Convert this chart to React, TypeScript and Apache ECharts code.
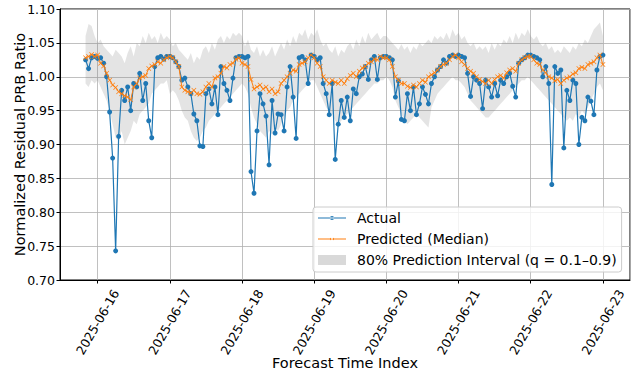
import React, { useEffect, useRef } from "react";
import * as echarts from "echarts";

// Hourly forecast index: first point 2025-06-15 20:00 (local), 173 points, last 2025-06-23 00:00
const START = [2025, 5, 15, 20];
const STEP_MS = 3600 * 1000;

// Actual normalized residual PRB ratio (one line per day)
const actual = [
  1.025, 1.012, 1.028, 1.030, 1.027, 1.028, 1.020, 1.000, 0.948, 0.880, 0.743, 0.912, 0.980, 0.965, 0.985, 0.950, 0.990, 0.985, 1.005, 0.965, 0.990, 0.935, 0.910, 1.015, 1.028, 1.030, 1.026, 1.030,
  1.030, 1.028, 1.022, 1.015, 0.995, 0.998, 0.985, 0.975, 0.945, 0.935, 0.898, 0.897, 0.975, 0.982, 0.960, 0.985, 0.944, 1.015, 0.990, 0.980, 0.965, 0.998, 1.028, 1.030,
  1.030, 1.028, 1.030, 0.860, 0.828, 0.920, 0.975, 0.960, 0.942, 0.870, 0.965, 0.917, 0.945, 0.944, 0.920, 0.985, 1.015, 0.970, 0.909, 1.028, 1.030, 1.025, 0.990, 1.032,
  1.030, 1.025, 1.028, 0.990, 0.975, 0.944, 0.990, 0.878, 0.930, 0.965, 0.940, 0.970, 0.935, 0.982, 0.975, 1.000, 1.004, 1.015, 0.996, 1.025, 1.030, 0.996, 1.028, 1.030,
  1.030, 1.028, 1.025, 0.970, 0.994, 0.937, 0.935, 0.975, 0.950, 0.985, 0.944, 0.960, 0.985, 0.974, 0.960, 0.990, 1.000, 1.010, 1.015, 1.025, 1.020, 1.030, 1.032, 1.030,
  1.032, 1.030, 1.028, 1.005, 0.971, 1.000, 0.995, 0.990, 0.953, 0.995, 0.985, 0.970, 0.990, 0.972, 0.995, 0.990, 1.000, 1.005, 0.986, 0.970, 1.020, 1.025, 1.028, 1.032,
  1.032, 1.030, 1.028, 1.025, 1.000, 1.015, 0.990, 0.841, 1.015, 1.005, 1.010, 0.895, 0.980, 0.965, 0.995, 0.990, 0.900, 0.940, 0.935, 0.970, 0.964, 0.944, 1.010, 1.030, 1.032,
];

// Predicted median
const predicted = [
  1.028, 1.030, 1.033, 1.030, 1.032, 1.020, 1.016, 1.005, 0.995, 0.988, 0.984, 0.978, 0.975, 0.972, 0.970, 0.966, 0.985, 0.990, 0.998, 1.000, 1.002, 1.012, 1.016, 1.018, 1.022, 1.020, 1.025, 1.028,
  1.030, 1.028, 1.022, 1.015, 0.985, 0.980, 0.978, 0.976, 0.980, 0.975, 0.974, 0.978, 0.985, 0.990, 0.985, 0.998, 1.000, 1.005, 1.015, 1.013, 1.018, 1.020, 1.026, 1.028,
  1.020, 1.018, 1.015, 0.996, 0.982, 0.985, 0.988, 0.982, 0.985, 0.978, 0.982, 0.975, 0.978, 0.990, 0.995, 1.000, 1.005, 1.010, 1.008, 1.018, 1.020, 1.022, 1.028, 1.032,
  1.028, 1.020, 1.015, 1.000, 0.995, 0.990, 0.995, 0.992, 0.990, 0.995, 0.990, 0.997, 1.002, 1.005, 1.000, 1.008, 1.013, 1.015, 1.020, 1.022, 1.026, 1.025, 1.030, 1.028,
  1.028, 1.025, 1.015, 1.000, 0.995, 0.990, 0.990, 0.986, 0.984, 0.988, 0.985, 0.990, 0.995, 0.992, 1.000, 1.003, 1.006, 1.010, 1.015, 1.018, 1.020, 1.025, 1.030, 1.032,
  1.028, 1.022, 1.018, 1.012, 1.008, 1.005, 1.000, 0.996, 0.993, 0.990, 0.995, 0.990, 0.996, 1.000, 1.002, 0.998, 1.006, 1.010, 1.012, 1.008, 1.020, 1.025, 1.028, 1.030,
  1.030, 1.025, 1.020, 1.018, 1.010, 1.006, 1.000, 0.998, 0.994, 0.996, 0.990, 0.995, 0.998, 1.000, 1.004, 1.006, 1.012, 1.014, 1.012, 1.018, 1.020, 1.022, 1.028, 1.032, 1.018,
];

// 10% quantile
const lower = [
  0.990, 0.985, 0.995, 0.990, 0.995, 0.985, 0.975, 0.965, 0.950, 0.930, 0.910, 0.905, 0.920, 0.900, 0.910, 0.920, 0.935, 0.930, 0.945, 0.950, 0.955, 0.960, 0.975, 0.980, 0.985, 0.990, 0.990, 0.995,
  0.975, 0.980, 0.975, 0.965, 0.950, 0.940, 0.935, 0.920, 0.910, 0.905, 0.910, 0.920, 0.925, 0.935, 0.940, 0.945, 0.950, 0.955, 0.960, 0.965, 0.970, 0.975, 0.980, 0.985,
  0.990, 0.985, 0.975, 0.955, 0.940, 0.930, 0.920, 0.915, 0.910, 0.920, 0.915, 0.925, 0.920, 0.930, 0.940, 0.950, 0.955, 0.965, 0.970, 0.975, 0.980, 0.985, 0.990, 0.995,
  0.995, 0.985, 0.975, 0.965, 0.955, 0.950, 0.945, 0.935, 0.930, 0.935, 0.940, 0.945, 0.950, 0.955, 0.960, 0.965, 0.970, 0.975, 0.980, 0.985, 0.990, 0.990, 0.995, 0.995,
  1.000, 0.995, 0.985, 0.965, 0.955, 0.945, 0.935, 0.930, 0.935, 0.940, 0.945, 0.940, 0.935, 0.930, 0.925, 0.955, 0.965, 0.975, 0.980, 0.985, 0.990, 0.995, 1.000, 0.995,
  0.995, 0.990, 0.985, 0.975, 0.965, 0.960, 0.955, 0.950, 0.945, 0.940, 0.940, 0.945, 0.950, 0.955, 0.960, 0.965, 0.970, 0.975, 0.980, 0.985, 0.990, 0.995, 0.995, 1.000,
  0.995, 0.990, 0.985, 0.980, 0.975, 0.970, 0.965, 0.960, 0.955, 0.950, 0.945, 0.940, 0.935, 0.940, 0.935, 0.945, 0.940, 0.950, 0.945, 0.955, 0.965, 0.975, 0.985, 0.990, 0.980,
];

// 90% quantile
const upper = [
  1.060, 1.078, 1.075, 1.060, 1.050, 1.055, 1.045, 1.040, 1.035, 1.030, 1.040, 1.035, 1.030, 1.020, 1.035, 1.045, 1.030, 1.050, 1.045, 1.060, 1.050, 1.065, 1.055, 1.060, 1.050, 1.065, 1.055, 1.060,
  1.055, 1.045, 1.050, 1.040, 1.035, 1.030, 1.025, 1.035, 1.020, 1.030, 1.025, 1.040, 1.045, 1.035, 1.050, 1.040, 1.055, 1.060, 1.050, 1.060, 1.055, 1.065, 1.060, 1.065,
  1.060, 1.045, 1.055, 1.040, 1.035, 1.045, 1.030, 1.040, 1.030, 1.035, 1.045, 1.030, 1.040, 1.050, 1.040, 1.055, 1.045, 1.060, 1.050, 1.065, 1.060, 1.070, 1.055, 1.065,
  1.060, 1.070, 1.055, 1.045, 1.050, 1.040, 1.035, 1.045, 1.030, 1.040, 1.035, 1.045, 1.050, 1.040, 1.055, 1.045, 1.060, 1.050, 1.065, 1.055, 1.060, 1.065, 1.055, 1.060,
  1.060, 1.055, 1.050, 1.045, 1.040, 1.048, 1.040, 1.045, 1.035, 1.045, 1.040, 1.050, 1.045, 1.050, 1.055, 1.050, 1.060, 1.055, 1.060, 1.055, 1.065, 1.055, 1.070, 1.060,
  1.065, 1.055, 1.060, 1.050, 1.045, 1.050, 1.040, 1.045, 1.040, 1.045, 1.035, 1.050, 1.040, 1.050, 1.045, 1.055, 1.050, 1.060, 1.050, 1.065, 1.055, 1.065, 1.060, 1.070,
  1.060, 1.055, 1.060, 1.050, 1.045, 1.050, 1.040, 1.045, 1.035, 1.040, 1.035, 1.045, 1.040, 1.035, 1.045, 1.040, 1.050, 1.045, 1.055, 1.050, 1.060, 1.070, 1.075, 1.080, 1.060,
];

const yTickMin = 0.7;
const yTickMax = 1.1;
const yTickStep = 0.05;

const NAME_ACTUAL = "Actual";
const NAME_PRED = "Predicted (Median)";
const NAME_BAND = "80% Prediction Interval (q = 0.1–0.9)";

const FONT = "DejaVu Sans";
const X_SYMBOL = "path://M1,0L5,4L9,0L10,1L6,5L10,9L9,10L5,6L1,10L0,9L4,5L0,1Z";
// legend handles drawn in a 28x10 box (tiny corner dots fix the bounding box)
const ICON_ACTUAL =
  "path://M0,0H0.01V0.01H0Z M27.99,9.99H28V10H27.99Z M0,4.45H28V5.55H0Z M11.9,5A2.1,2.1 0 1,0 16.1,5A2.1,2.1 0 1,0 11.9,5Z";
const ICON_PRED =
  "path://M0,0H0.01V0.01H0Z M27.99,9.99H28V10H27.99Z M0,4.55H12.3L12,4.3L12.5,3.8L14,5.3L15.5,3.8L16,4.3L15.7,4.55H28V5.45H15.7L16,5.7L15.5,6.2L14,4.7L12.5,6.2L12,5.7L12.3,5.45H0Z";

const pad2 = (n: number) => (n < 10 ? "0" + n : "" + n);

export default function App() {
  const ref = useRef<HTMLDivElement>(null);

  useEffect(() => {
    document.body.style.margin = "0";
    if (!ref.current) return;
    const chart = echarts.init(ref.current, undefined, { renderer: "svg" });

    const t0 = new Date(START[0], START[1], START[2], START[3]).getTime();
    const times = actual.map((_, i) => t0 + i * STEP_MS);
    const xMin = new Date(2025, 5, 15, 11, 30).getTime();
    const xMax = new Date(2025, 5, 23, 9, 0).getTime();
    const DAY = 24 * 3600 * 1000;

    const option: any = {
      animation: false,
      backgroundColor: "#ffffff",
      textStyle: { fontFamily: FONT },
      grid: {
        left: 60,
        right: 4,
        top: 9,
        bottom: 92,
        show: true,
        borderColor: "#000",
        borderWidth: 1,
        containLabel: false,
        outerBoundsMode: "none",
      },
      legend: {
        orient: "vertical",
        left: 313,
        top: 207,
        selectedMode: false,
        itemWidth: 28,
        itemHeight: 10,
        itemGap: 7,
        padding: [4, 5, 5, 5],
        backgroundColor: "rgba(255,255,255,0.8)",
        borderColor: "#cccccc",
        borderWidth: 1,
        borderRadius: 3,
        textStyle: { fontFamily: FONT, fontSize: 14, color: "#000", lineHeight: 14, padding: [0, 0, 0, 6] },
        data: [
          { name: NAME_ACTUAL, icon: ICON_ACTUAL, itemStyle: { color: "#1f77b4", borderWidth: 0 } },
          { name: NAME_PRED, icon: ICON_PRED, itemStyle: { color: "#ff7f0e", borderWidth: 0 } },
          { name: NAME_BAND, icon: "rect", itemStyle: { color: "#d9d9d9", borderWidth: 0 } },
        ],
      },
      xAxis: {
        type: "time",
        min: xMin,
        max: xMax,
        minInterval: DAY,
        maxInterval: DAY,
        name: "Forecast Time Index",
        nameLocation: "middle",
        nameGap: 75,
        nameMoveOverlap: false,
        nameTextStyle: { fontFamily: FONT, fontSize: 14.5, color: "#000" },
        axisLine: { show: true, onZero: false, lineStyle: { color: "#000", width: 1 } },
        axisTick: { show: true, length: 3.5, lineStyle: { color: "#000", width: 1 } },
        axisLabel: {
          rotate: 60,
          align: "center",
          verticalAlign: "middle",
          margin: 42,
          fontFamily: FONT,
          fontSize: 12.5,
          color: "#000",
          showMinLabel: false,
          showMaxLabel: false,
          hideOverlap: false,
          formatter: (v: number) => {
            const d = new Date(v);
            if (d.getHours() !== 0 || d.getMinutes() !== 0) return "";
            return d.getFullYear() + "-" + pad2(d.getMonth() + 1) + "-" + pad2(d.getDate());
          },
        },
        splitLine: { show: true, lineStyle: { color: "#b0b0b0", width: 0.8 } },
      },
      yAxis: {
        type: "value",
        min: yTickMin,
        max: yTickMax,
        interval: yTickStep,
        name: "Normalized Residual PRB Ratio",
        nameLocation: "middle",
        nameGap: 33,
        nameMoveOverlap: false,
        nameTextStyle: { fontFamily: FONT, fontSize: 14.5, color: "#000" },
        axisLine: { show: true, lineStyle: { color: "#000", width: 1 } },
        axisTick: { show: true, length: 3.5, lineStyle: { color: "#000", width: 1 } },
        axisLabel: {
          fontFamily: FONT,
          fontSize: 12.5,
          color: "#000",
          margin: 5,
          formatter: (v: number) => v.toFixed(2),
        },
        splitLine: { show: true, lineStyle: { color: "#b0b0b0", width: 0.8 } },
      },
      series: [
        {
          name: "bandLower",
          type: "line",
          stack: "band",
          data: times.map((t, i) => [t, lower[i]]),
          symbol: "none",
          lineStyle: { width: 0, opacity: 0 },
          silent: true,
          z: 1,
        },
        {
          name: NAME_BAND,
          type: "line",
          stack: "band",
          data: times.map((t, i) => [t, upper[i] - lower[i]]),
          symbol: "none",
          lineStyle: { width: 0, opacity: 0 },
          itemStyle: { color: "#d9d9d9" },
          areaStyle: { color: "rgba(128,128,128,0.3)" },
          silent: true,
          z: 1,
        },
        {
          name: NAME_ACTUAL,
          type: "line",
          data: times.map((t, i) => [t, actual[i]]),
          symbol: "circle",
          symbolSize: 5,
          showSymbol: true,
          itemStyle: { color: "#1f77b4" },
          lineStyle: { color: "#1f77b4", width: 1.2 },
          z: 3,
        },
        {
          name: NAME_PRED,
          type: "line",
          data: times.map((t, i) => [t, predicted[i]]),
          symbol: X_SYMBOL,
          symbolSize: 5,
          showSymbol: true,
          itemStyle: { color: "#ff7f0e" },
          lineStyle: { color: "#ff7f0e", width: 1 },
          z: 4,
        },
      ],
    };

    chart.setOption(option);
    return () => chart.dispose();
  }, []);

  return <div ref={ref} style={{ width: 634, height: 372 }} />;
}
